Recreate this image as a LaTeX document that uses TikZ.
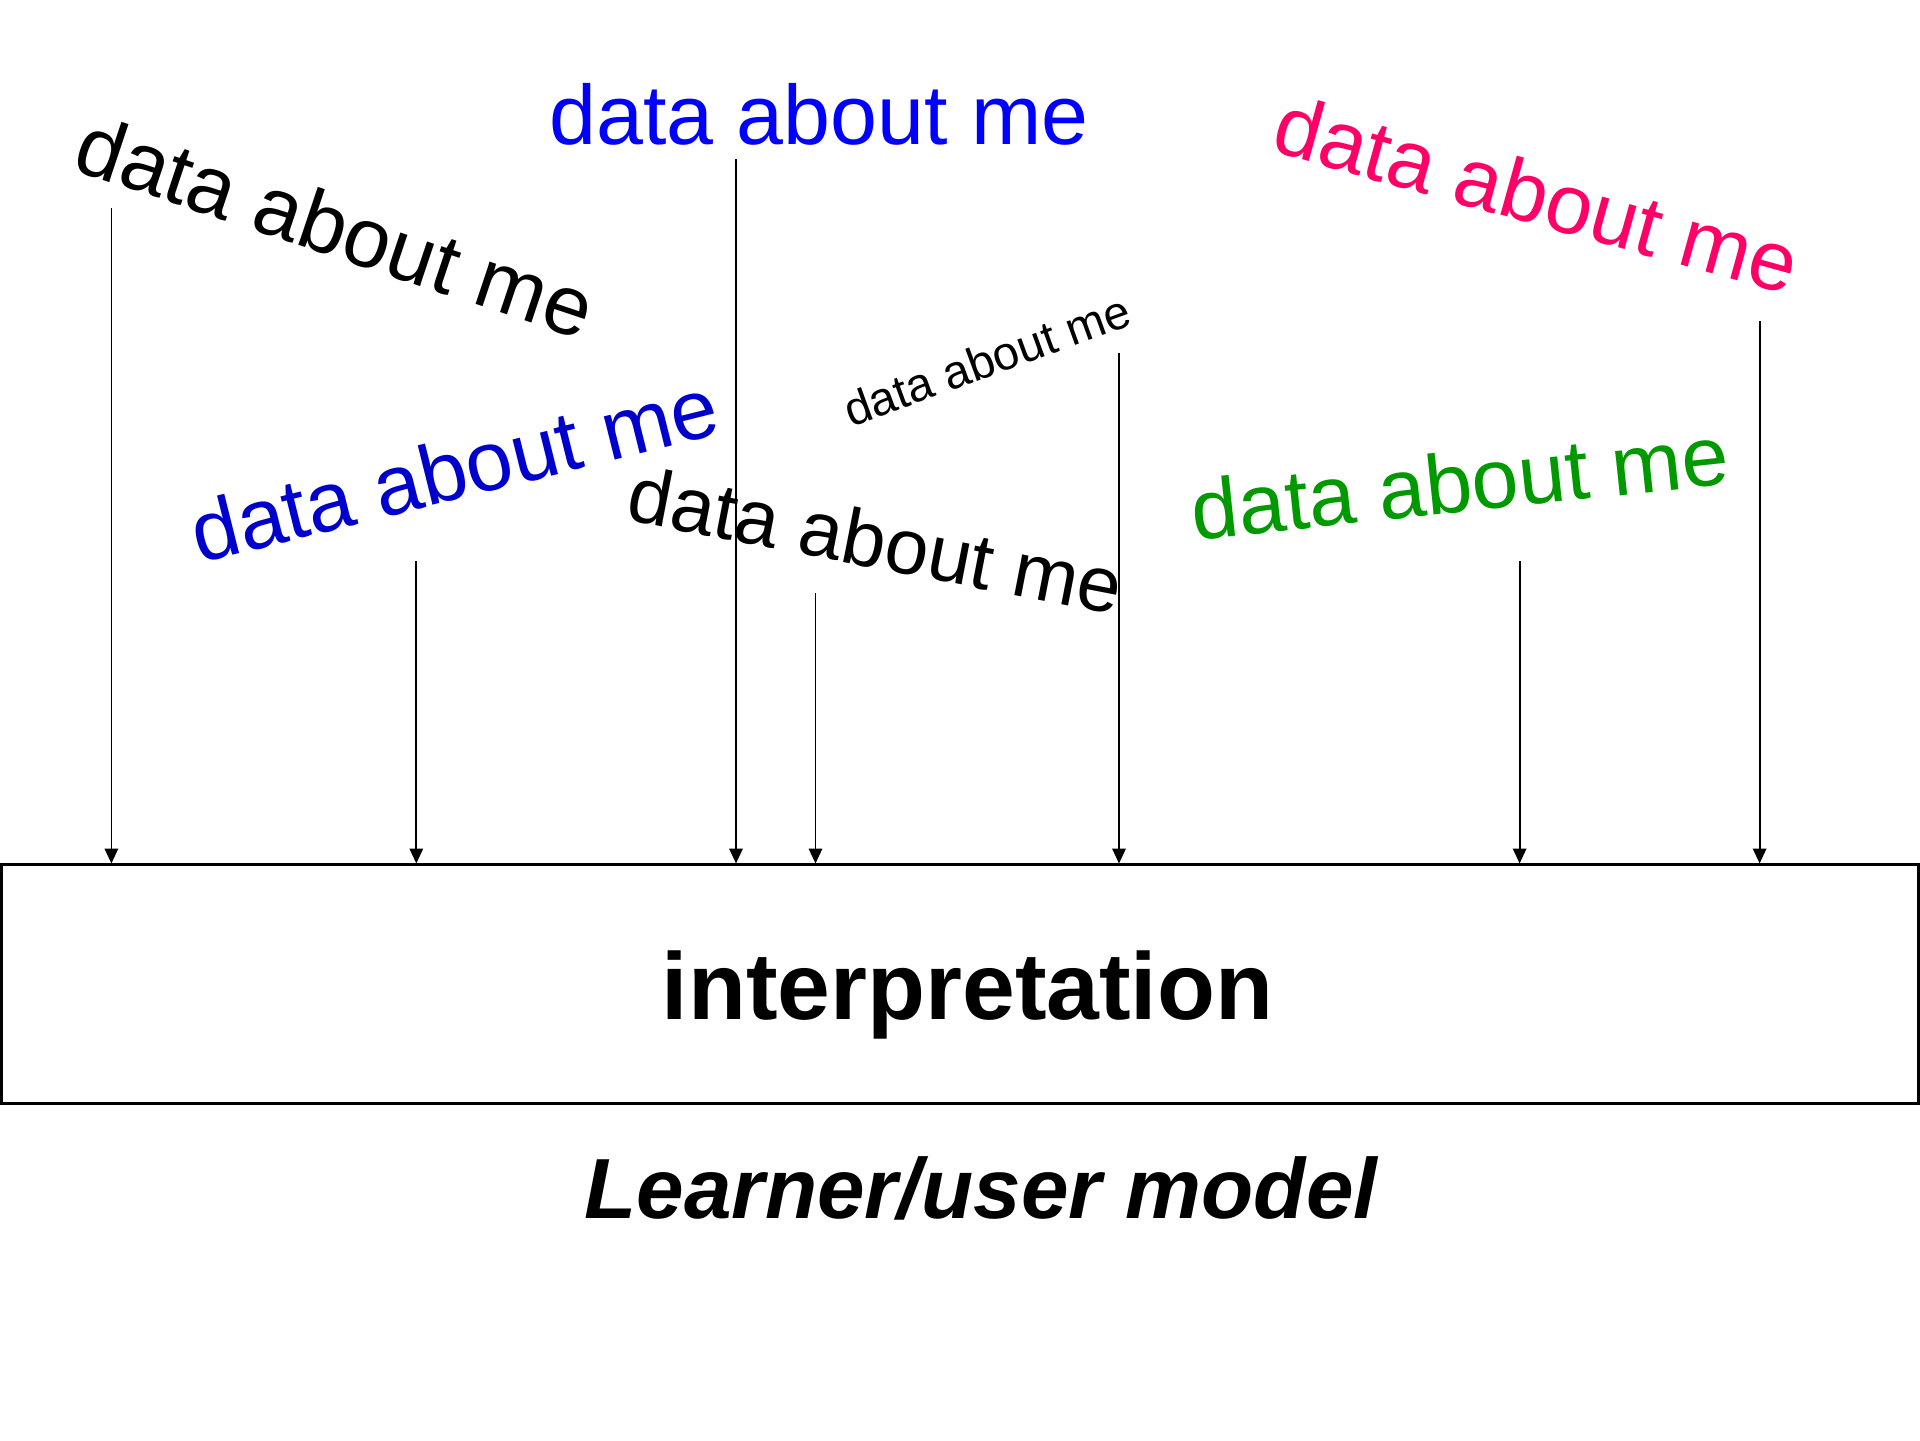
\documentclass[tikz,border=0pt]{standalone}
\usepackage{fontspec}
\setmainfont{Liberation Sans}
\usetikzlibrary{arrows.meta}
\definecolor{datablue1}{HTML}{0000FF}
\definecolor{datablue2}{HTML}{0000CC}
\definecolor{datared}{HTML}{FF0066}
\definecolor{datagreen}{HTML}{009900}

\begin{document}
\begin{tikzpicture}[
  feed/.style={-{Triangle[length=4.2pt,width=3.8pt]}, line width=0.5pt},
  datatext/.style={inner sep=0pt, font=\fontsize{24}{28}\selectfont}
]
\useasboundingbox (0,0) rectangle (19.2,-14.4);

% the model box
\node[draw, line width=0.6pt, minimum width=19.17cm, minimum height=2.39cm, inner sep=0pt] (box) at (9.6,-9.84) {};
\node[anchor=base, font=\fontsize{27}{32}\selectfont\bfseries] (interp) at (9.675,-10.19) {interpretation};
\node[anchor=base, font=\fontsize{24.3}{28}\selectfont\bfseries\itshape] (model) at (9.81,-12.18) {Learner/user model};

% data scattered above
\node[datatext, text=datablue1, anchor=base] (d1) at (8.19,-1.445) {data about me};
\node[datatext, rotate=-18.5] (d2) at (3.36,-2.26) {data about me};
\node[datatext, text=datared, rotate=-15.5] (d3) at (15.37,-1.94) {data about me};
\node[datatext, text=datablue2, rotate=14] (d4) at (4.54,-4.69) {data about me};
\node[datatext, font=\fontsize{22.3}{26}\selectfont, rotate=-11] (d5) at (8.76,-5.40) {data about me};
\node[datatext, font=\fontsize{13.4}{16}\selectfont, rotate=20] (d6) at (9.87,-3.60) {data about me};
\node[datatext, text=datagreen, rotate=6] (d7) at (14.60,-4.82) {data about me};

% arrows down into the box
\foreach \x/\y [count=\i] in {1.114/2.08, 4.163/5.61, 7.36/1.59, 8.155/5.93, 11.19/3.53, 15.196/5.61, 17.596/3.21}
  \coordinate (src\i) at (\x,-\y);
\foreach \i in {1,...,7}
  \draw[feed] (src\i) -- (src\i |- box.north);
\end{tikzpicture}
\end{document}
